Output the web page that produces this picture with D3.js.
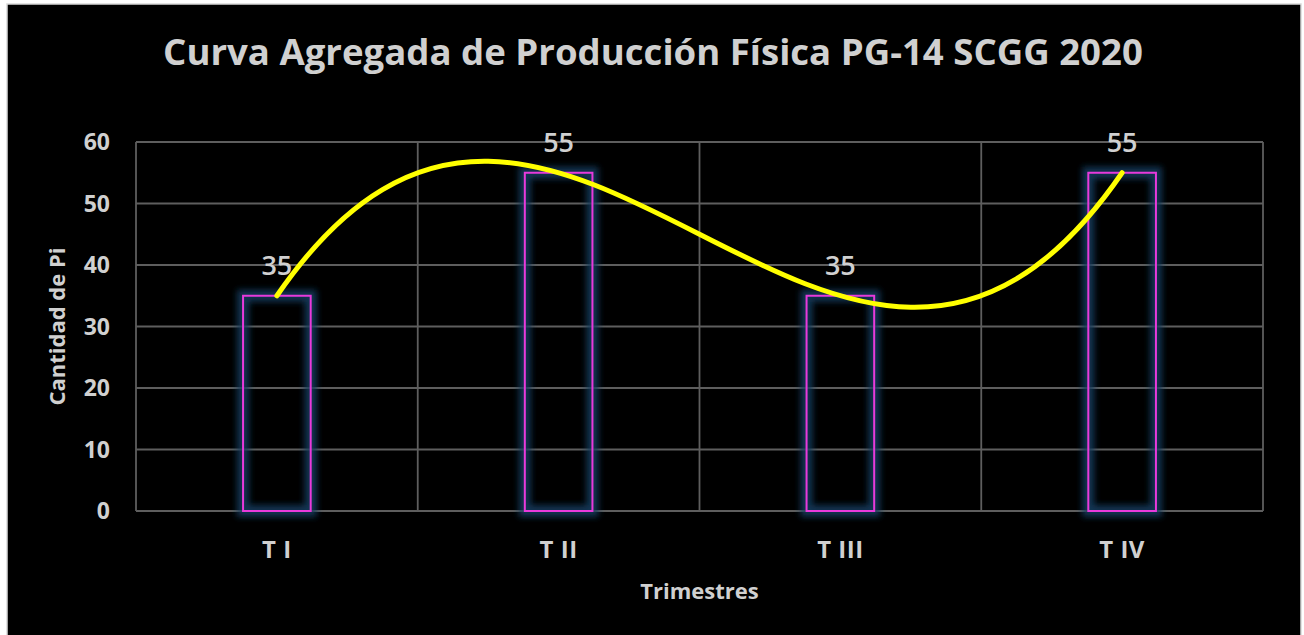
<!DOCTYPE html>
<html lang="es">
<head>
<meta charset="utf-8">
<title>Curva Agregada de Producción Física PG-14 SCGG 2020</title>
<style>
  body { margin: 0; background: #fff; }
  text { font-family: "Open Sans", "DejaVu Sans", sans-serif; fill: #d0d0d0; }
  .tick-label { font-size: 23px; font-weight: 700; }
  .cat-label { font-size: 24px; font-weight: 700; letter-spacing: 0.5px; }
  .axis-title { font-size: 22px; font-weight: 700; }
  .data-label { font-size: 27px; font-weight: 600; }
  .grid line { stroke: #5e5e5e; stroke-width: 1.8px; }
</style>
</head>
<body>
<svg width="1304" height="635"></svg>
<script src="https://cdn.jsdelivr.net/npm/d3@7"></script>
<script>
  // data
  var categories = ["T I", "T II", "T III", "T IV"];
  var values = [35, 55, 35, 55];
  var yTicks = [0, 10, 20, 30, 40, 50, 60];

  var svg = d3.select("svg");
  var margin = { left: 136, right: 1263, top: 142, bottom: 511 };

  var x = d3.scaleBand()
    .domain(categories)
    .range([margin.left, margin.right]);
  var y = d3.scaleLinear()
    .domain([0, 60])
    .range([margin.bottom, margin.top]);
  var barW = x.bandwidth() * 0.24;

  // glow used behind the bar outlines
  var defs = svg.append("defs");
  defs.append("filter")
      .attr("id", "glow")
      .attr("x", "-50%").attr("y", "-20%")
      .attr("width", "200%").attr("height", "140%")
    .append("feGaussianBlur")
      .attr("stdDeviation", 3);

  // chart area
  svg.append("rect")
    .attr("x", 7).attr("y", 4)
    .attr("width", 1294).attr("height", 640)
    .attr("fill", "#000")
    .attr("stroke", "#d9d9d9")
    .attr("stroke-width", 1.5);

  // title
  var title = svg.append("text")
    .attr("x", 653)
    .attr("y", 65)
    .attr("text-anchor", "middle")
    .attr("font-weight", 700)
    .style("font-size", "34px")
    .text("Curva Agregada de Producción Física PG-14 SCGG 2020");
  var tw = title.node().getComputedTextLength();
  title.style("font-size", (34 * 980 / tw) + "px");

  // gridlines
  var grid = svg.append("g").attr("class", "grid");
  grid.selectAll("line.h")
    .data(yTicks)
    .enter().append("line")
      .attr("class", "h")
      .attr("x1", margin.left).attr("x2", margin.right)
      .attr("y1", function(d) { return y(d); })
      .attr("y2", function(d) { return y(d); });
  var edges = categories.map(function(c) { return x(c); }).concat([margin.right]);
  grid.selectAll("line.v")
    .data(edges)
    .enter().append("line")
      .attr("class", "v")
      .attr("x1", function(d) { return d; }).attr("x2", function(d) { return d; })
      .attr("y1", margin.top).attr("y2", margin.bottom);

  // y tick labels
  svg.append("g").selectAll("text")
    .data(yTicks)
    .enter().append("text")
      .attr("class", "tick-label")
      .attr("x", 110)
      .attr("y", function(d) { return y(d); })
      .attr("dy", "0.36em")
      .attr("text-anchor", "end")
      .text(function(d) { return d; });

  // x tick labels
  svg.append("g").selectAll("text")
    .data(categories)
    .enter().append("text")
      .attr("class", "cat-label")
      .attr("x", function(d) { return x(d) + x.bandwidth() / 2; })
      .attr("y", 558)
      .attr("text-anchor", "middle")
      .text(function(d) { return d; });

  // axis titles
  svg.append("text")
    .attr("class", "axis-title")
    .attr("x", (margin.left + margin.right) / 2)
    .attr("y", 599)
    .attr("text-anchor", "middle")
    .text("Trimestres");
  svg.append("text")
    .attr("class", "axis-title")
    .attr("transform", "translate(65," + ((margin.top + margin.bottom) / 2) + ") rotate(-90)")
    .attr("text-anchor", "middle")
    .text("Cantidad de Pi");

  // bars: blurred blue halo, then magenta outline
  var bars = svg.append("g");
  bars.selectAll("rect.glow")
    .data(values)
    .enter().append("rect")
      .attr("class", "glow")
      .attr("x", function(d, i) { return x(categories[i]) + (x.bandwidth() - barW) / 2; })
      .attr("y", function(d) { return y(d); })
      .attr("width", barW)
      .attr("height", function(d) { return y(0) - y(d); })
      .attr("fill", "none")
      .attr("stroke", "#173d60")
      .attr("stroke-width", 12)
      .attr("opacity", 0.85)
      .attr("filter", "url(#glow)");
  bars.selectAll("rect.bar")
    .data(values)
    .enter().append("rect")
      .attr("class", "bar")
      .attr("x", function(d, i) { return x(categories[i]) + (x.bandwidth() - barW) / 2; })
      .attr("y", function(d) { return y(d); })
      .attr("width", barW)
      .attr("height", function(d) { return y(0) - y(d); })
      .attr("fill", "none")
      .attr("stroke", "#e83adb")
      .attr("stroke-width", 2);

  // data labels
  svg.append("g").selectAll("text")
    .data(values)
    .enter().append("text")
      .attr("class", "data-label")
      .attr("x", function(d, i) { return x(categories[i]) + x.bandwidth() / 2; })
      .attr("y", function(d) { return y(d) - 21; })
      .attr("text-anchor", "middle")
      .text(function(d) { return d; });

  // order-3 polynomial trendline through the four values,
  // drawn as the single cubic bezier it is (forward differences give end slopes)
  var d1 = d3.pairs(values, function(a, b) { return b - a; });
  var d2 = d3.pairs(d1, function(a, b) { return b - a; });
  var d3v = d3.pairs(d2, function(a, b) { return b - a; });
  var n = values.length - 1;
  var slope0 = d1[0] - d2[0] / 2 + d3v[0] / 3;
  var slopeN = d1[n - 1] + d2[n - 2] / 2 + d3v[0] / 3;
  var xi = d3.scaleLinear()
    .domain([0, n])
    .range([x(categories[0]) + x.bandwidth() / 2, x(categories[n]) + x.bandwidth() / 2]);
  var p = d3.path();
  p.moveTo(xi(0), y(values[0]));
  p.bezierCurveTo(xi(n / 3), y(values[0] + slope0 * n / 3),
                  xi(2 * n / 3), y(values[n] - slopeN * n / 3),
                  xi(n), y(values[n]));
  svg.append("path")
    .attr("d", p.toString())
    .attr("fill", "none")
    .attr("stroke", "#ffff00")
    .attr("stroke-width", 5)
    .attr("stroke-linecap", "round");
</script>
</body>
</html>
